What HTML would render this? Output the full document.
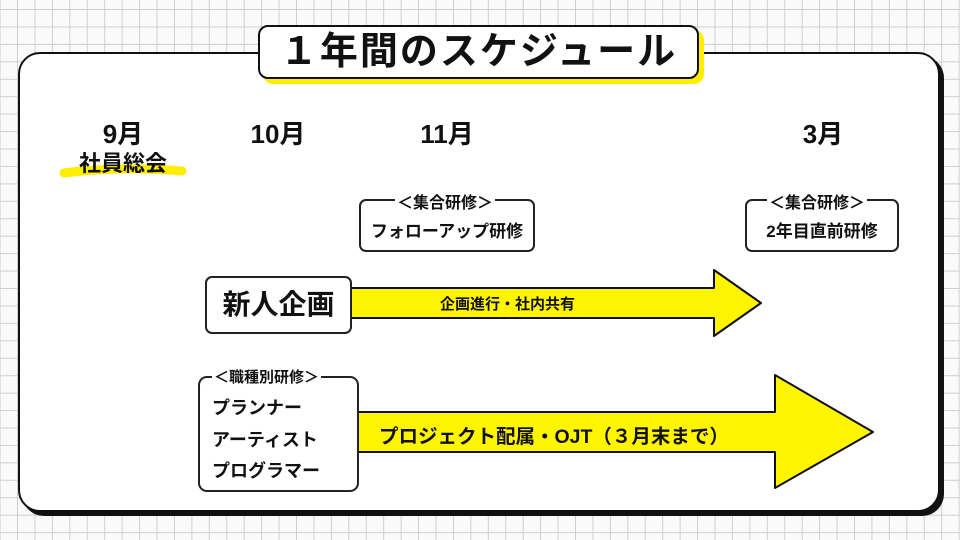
<!DOCTYPE html>
<html><head><meta charset="utf-8"><style>
body{margin:0;width:960px;height:540px;overflow:hidden;position:relative;font-family:"Liberation Sans","Noto Sans CJK JP",sans-serif;color:#111;
background-color:#fafafa;
background-image:linear-gradient(to right,#cfcfcf 1px,transparent 1px),linear-gradient(to bottom,#cfcfcf 1px,transparent 1px);
background-size:17.45px 17.45px;background-position:17px 9px;}
.abs{position:absolute}
.panel{left:18px;top:52px;width:918px;height:456px;border:2.5px solid #111;border-radius:22px;background:#fff;box-shadow:4px 4px 0 #111}
.title{left:258px;top:25px;width:437px;height:50px;border:2px solid #111;border-radius:10px;background:#fff;box-shadow:5px 5px 0 #ffee00;text-align:center;font-size:38px;font-weight:bold;line-height:50px;letter-spacing:2px}
.m{font-size:26px;font-weight:bold;text-align:center;width:120px;top:114px}
.box{border:2px solid #222;border-radius:7px;background:#fff}
.lbl{font-size:16px;font-weight:bold;background:#fff;padding:0 2px;white-space:nowrap}
</style></head><body>
<div class="abs panel"></div>
<div class="abs title">１年間のスケジュール</div>

<div class="abs m" style="left:63px">9月</div>
<div class="abs m" style="left:218px">10月</div>
<div class="abs m" style="left:387px">11月</div>
<div class="abs m" style="left:763px">3月</div>
<svg class="abs" style="left:0;top:0" width="960" height="540">
<path d="M64 173 Q120 166 182 171" stroke="#ffee00" stroke-width="9" stroke-linecap="round" fill="none"/>
<polygon points="350,288 714,288 714,270 761,303 714,336 714,318 350,318" fill="#fff500" stroke="#111" stroke-width="2" stroke-linejoin="round"/>
<polygon points="356,412 775,412 775,375 873,432 775,488 775,452 356,452" fill="#fff500" stroke="#111" stroke-width="2" stroke-linejoin="round"/>
</svg>
<div class="abs" style="left:63px;top:146px;width:120px;text-align:center;font-size:22px;font-weight:bold">社員総会</div>

<div class="abs box" style="left:359px;top:199px;width:172px;height:49px"></div>
<div class="abs lbl" style="left:395px;top:189px">＜集合研修＞</div>
<div class="abs" style="left:359px;top:217px;width:176px;text-align:center;font-size:17px;font-weight:bold">フォローアップ研修</div>

<div class="abs box" style="left:745px;top:199px;width:150px;height:49px"></div>
<div class="abs lbl" style="left:767px;top:189px">＜集合研修＞</div>
<div class="abs" style="left:745px;top:217px;width:154px;text-align:center;font-size:17px;font-weight:bold">2年目直前研修</div>

<div class="abs box" style="left:205px;top:276px;width:143px;height:54px;font-size:28px;font-weight:bold;text-align:center;line-height:54px">新人企画</div>
<div class="abs" style="left:440px;top:293px;font-size:15px;font-weight:bold">企画進行・社内共有</div>

<div class="abs box" style="left:198px;top:376px;width:157px;height:112px;border-radius:9px"></div>
<div class="abs lbl" style="left:212px;top:366px;font-size:15px">＜職種別研修＞</div>
<div class="abs" style="left:212px;top:393px;font-size:18px;font-weight:bold;line-height:31.5px">プランナー<br>アーティスト<br>プログラマー</div>
<div class="abs" style="left:379px;top:420px;font-size:19.5px;font-weight:bold;white-space:nowrap">プロジェクト配属・OJT（３月末まで）</div>
</body></html>
